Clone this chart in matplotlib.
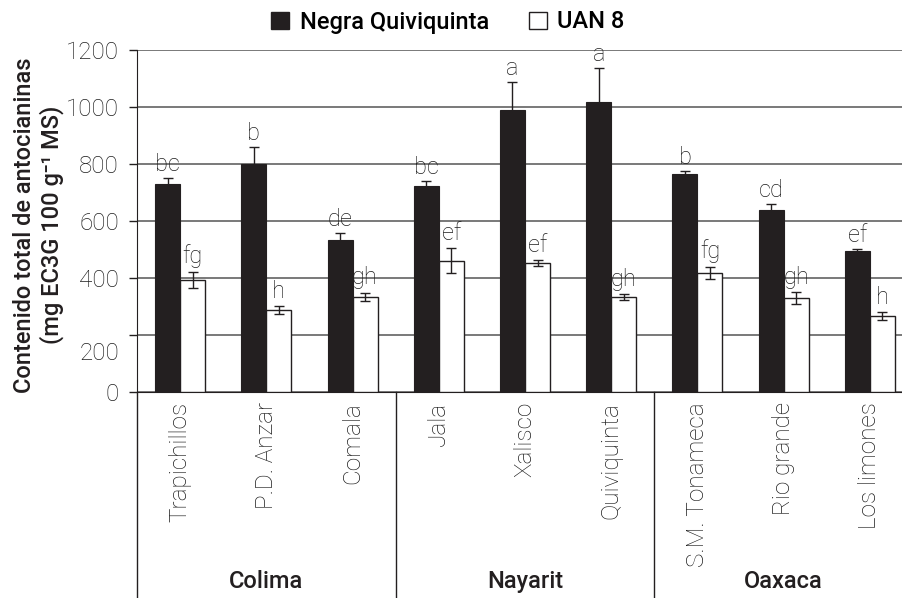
import numpy as np
import matplotlib.pyplot as plt
import matplotlib.transforms as mtransforms
from matplotlib.patches import Patch

plt.rcParams['font.family'] = ['Roboto', 'DejaVu Sans']

# Data
sitios = ['Trapichillos', 'P.D. Anzar', 'Comala', 'Jala', 'Xalisco',
          'Quiviquinta', 'S.M. Tonameca', 'Rio grande', 'Los limones']
estados = ['Colima', 'Nayarit', 'Oaxaca']
negra = [730, 802, 533, 723, 988, 1017, 765, 639, 495]
negra_err = [22, 58, 24, 17, 100, 121, 12, 21, 8]
uan8 = [395, 288, 334, 462, 454, 333, 418, 330, 267]
uan8_err = [28, 15, 15, 44, 10, 10, 22, 20, 15]
letras_negra = ['bc', 'b', 'de', 'bc', 'a', 'a', 'b', 'cd', 'ef']
letras_uan8 = ['fg', 'h', 'gh', 'ef', 'ef', 'gh', 'fg', 'gh', 'h']
yticks = [0, 200, 400, 600, 800, 1000, 1200]

dark = '#231f20'
txt = '#1e1e1e'
my_dpi = 100
fig = plt.figure(figsize=(902/my_dpi, 598/my_dpi), dpi=my_dpi)
ax = fig.add_axes([137/902, 205.7/598, 776/902, 342.3/598])

ind = np.arange(len(sitios))
width = 0.29

# Bars + error bars
ax.bar(ind - width/2, negra, width, color=dark, edgecolor=dark, linewidth=0.8,
       yerr=negra_err, error_kw=dict(ecolor=dark, elinewidth=1, capsize=3.6, capthick=1),
       zorder=3)
ax.bar(ind + width/2, uan8, width, color='white', edgecolor=dark, linewidth=1,
       yerr=uan8_err, error_kw=dict(ecolor=dark, elinewidth=1, capsize=3.6, capthick=1),
       zorder=3)

# Letters over bars
for i in ind:
    ax.annotate(letras_negra[i], (i - width/2, negra[i] + negra_err[i]),
                xytext=(0, 5), textcoords='offset points', ha='center', va='baseline',
                fontsize=17, fontweight='light', color=txt, zorder=4)
    ax.annotate(letras_uan8[i], (i + width/2, uan8[i] + uan8_err[i]),
                xytext=(0, 6), textcoords='offset points', ha='center', va='baseline',
                fontsize=17, fontweight='light', color=txt, zorder=4)

# Axes
ax.set_xlim(-0.5, len(sitios) - 0.5)
ax.set_ylim(0, 1200)
ax.set_yticks(yticks)
ax.set_yticklabels([str(v) for v in yticks], fontsize=17.5, fontweight='light', color=txt)
ax.tick_params(axis='y', length=6, width=1, pad=7, color=dark)
ax.set_xticks(ind)
ax.set_xticklabels(sitios, rotation=90, va='top', ha='center', fontsize=17.5,
                   fontweight='light', color=txt)
ax.tick_params(axis='x', length=0, pad=7)
ax.grid(axis='y', color='#555555', linewidth=1.1, zorder=0)
ax.set_axisbelow(True)
for s in ['top', 'right']:
    ax.spines[s].set_visible(False)
ax.spines['left'].set_color(dark)
ax.spines['bottom'].set_color(dark)

# the "200" label sits a bit lower
lab200 = ax.get_yticklabels()[1]
lab200.set_transform(lab200.get_transform() +
                     mtransforms.ScaledTranslation(0, -0.16, fig.dpi_scale_trans))

# Group separators and state names
trans = mtransforms.blended_transform_factory(ax.transData, ax.transAxes)
for xs in [-0.5, 2.5, 5.5]:
    ax.plot([xs, xs], [0, -0.65], transform=trans, color=dark, linewidth=1, clip_on=False)
for k, est in enumerate(estados):
    ax.text(3*k + 1, -0.552, est, transform=trans, ha='center', va='center',
            fontsize=17, fontweight='medium', color=dark)

# Y label
fig.text(38.5/902, 1 - 225/598,
         'Contenido total de antocianinas\n(mg EC3G 100 g\u207b\u00b9 MS)',
         rotation=90, ha='center', va='center', fontsize=17, fontweight='medium',
         color=dark, linespacing=1.15)

# Legend
handles = [Patch(facecolor=dark, edgecolor=dark, label='Negra Quiviquinta'),
           Patch(facecolor='white', edgecolor=dark, linewidth=1, label='UAN 8')]
fig.legend(handles=handles, loc='center', bbox_to_anchor=(448/902, 1 - 22/598), ncol=2,
           frameon=False, handlelength=0.75, handleheight=0.75, handletextpad=0.45,
           columnspacing=1.7, prop=dict(size=17, weight='medium'))

plt.savefig('out.png', dpi=my_dpi)
